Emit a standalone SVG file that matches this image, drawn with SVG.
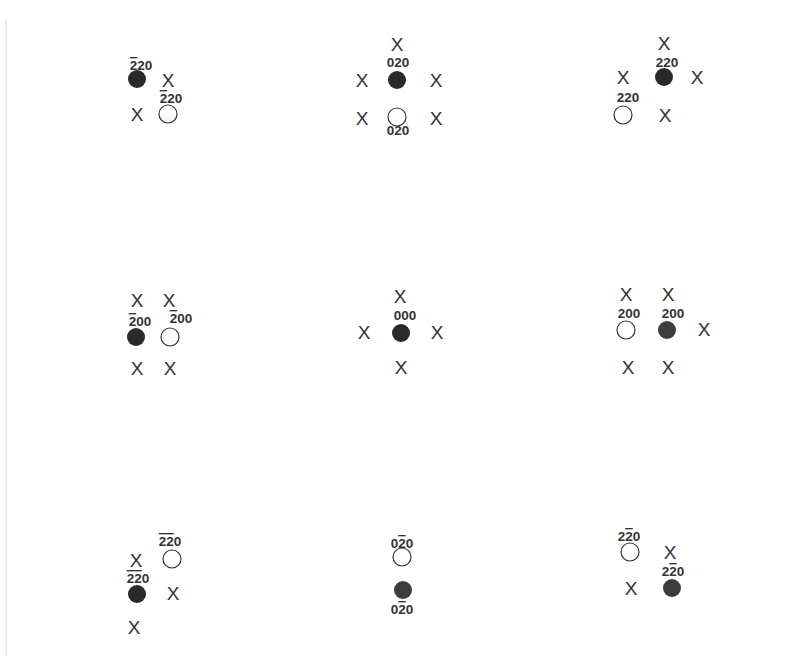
<svg xmlns="http://www.w3.org/2000/svg" width="812" height="656" viewBox="0 0 812 656">
<style>
.x{font-family:"Liberation Sans",Arial,sans-serif;font-size:19px;fill:#333;text-anchor:middle}
.l{font-family:"Liberation Sans",Arial,sans-serif;font-size:13.5px;font-weight:bold;fill:#333;text-anchor:middle}
.o{text-decoration:overline}
.f{fill:#2a2a2a}
.f2{fill:#3c3c3c}
.e{fill:#fff;stroke:#333;stroke-width:1.2}
</style>
<rect width="812" height="656" fill="#fff"/>
<line x1="6" y1="20" x2="6" y2="656" stroke="#ececec" stroke-width="2"/>
<g id="connectors"></g>
<g id="p1">
<circle class="f" cx="137" cy="79" r="9"/>
<text class="l" x="141" y="70"><tspan class="o">2</tspan>20</text>
<text class="x" x="168" y="87">X</text>
<text class="x" x="137" y="121">X</text>
<circle class="e" cx="168" cy="114" r="9"/>
<text class="l" x="171" y="103"><tspan class="o">2</tspan>20</text>
</g>
<g id="p2">
<text class="x" x="397" y="51">X</text>
<text class="l" x="398" y="67">020</text>
<text class="x" x="362" y="87">X</text>
<circle class="f" cx="397" cy="80" r="9"/>
<text class="x" x="436" y="87">X</text>
<text class="x" x="362" y="125">X</text>
<circle class="e" cx="397" cy="117" r="9"/>
<text class="x" x="436" y="125">X</text>
<text class="l" x="398" y="135">020</text>
</g>
<g id="p3">
<text class="x" x="664" y="50">X</text>
<text class="l" x="667" y="67">220</text>
<text class="x" x="623" y="84">X</text>
<circle class="f" cx="664" cy="77" r="9"/>
<text class="x" x="697" y="84">X</text>
<text class="l" x="628" y="102">220</text>
<circle class="e" cx="623" cy="115" r="9"/>
<text class="x" x="665" y="122">X</text>
</g>
<g id="p4">
<text class="x" x="137" y="307">X</text>
<text class="x" x="169" y="307">X</text>
<text class="l" x="140" y="326"><tspan class="o">2</tspan>00</text>
<text class="l" x="181" y="323"><tspan class="o">2</tspan>00</text>
<circle class="f" cx="136" cy="337" r="9"/>
<circle class="e" cx="170" cy="337" r="9"/>
<text class="x" x="137" y="375">X</text>
<text class="x" x="170" y="375">X</text>
</g>
<g id="p5">
<text class="x" x="400" y="303">X</text>
<text class="l" x="405" y="320">000</text>
<text class="x" x="364" y="339">X</text>
<circle class="f" cx="401" cy="333" r="9"/>
<text class="x" x="437" y="339">X</text>
<text class="x" x="401" y="374">X</text>
</g>
<g id="p6">
<text class="x" x="626" y="301">X</text>
<text class="x" x="668" y="301">X</text>
<text class="l" x="629" y="318">200</text>
<text class="l" x="673" y="318">200</text>
<circle class="e" cx="626" cy="330" r="9"/>
<circle class="f2" cx="667" cy="330" r="9"/>
<text class="x" x="704" y="336">X</text>
<text class="x" x="628" y="374">X</text>
<text class="x" x="668" y="374">X</text>
</g>
<g id="p7">
<text class="l" x="170" y="546"><tspan class="o">2</tspan><tspan class="o">2</tspan>0</text>
<text class="x" x="136" y="567">X</text>
<circle class="e" cx="172" cy="559" r="9"/>
<text class="l" x="138" y="583"><tspan class="o">2</tspan><tspan class="o">2</tspan>0</text>
<circle class="f" cx="137" cy="594" r="9"/>
<text class="x" x="173" y="600">X</text>
<text class="x" x="134" y="634">X</text>
</g>
<g id="p8">
<text class="l" x="402" y="548">0<tspan class="o">2</tspan>0</text>
<circle class="e" cx="402" cy="557" r="9"/>
<circle class="f2" cx="403" cy="590" r="9"/>
<text class="l" x="402" y="614">0<tspan class="o">2</tspan>0</text>
</g>
<g id="p9">
<text class="l" x="629" y="541">2<tspan class="o">2</tspan>0</text>
<circle class="e" cx="630" cy="552" r="9"/>
<text class="x" x="670" y="559">X</text>
<text class="l" x="673" y="576">2<tspan class="o">2</tspan>0</text>
<text class="x" x="631" y="595">X</text>
<circle class="f2" cx="672" cy="588" r="9"/>
</g>
</svg>
